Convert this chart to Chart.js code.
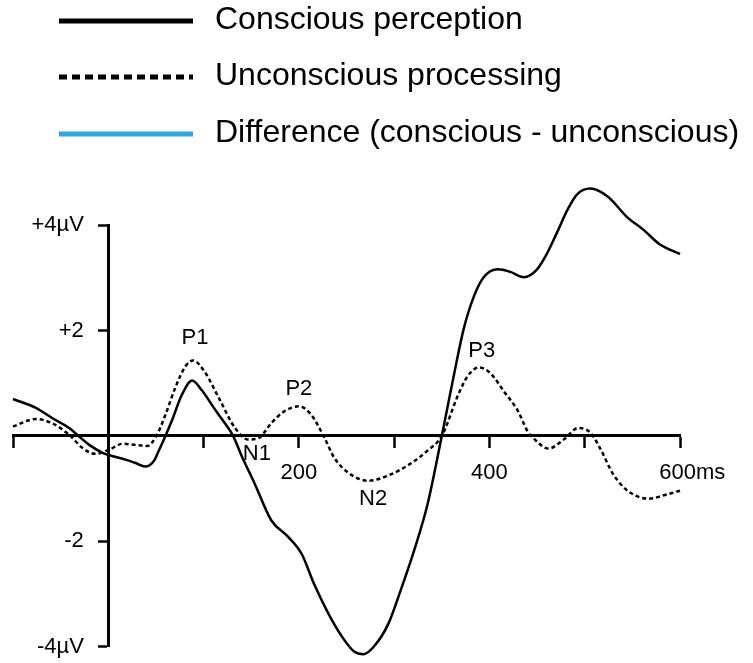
<!DOCTYPE html>
<html>
<head>
<meta charset="utf-8">
<script src="https://cdn.jsdelivr.net/npm/chart.js@4"></script>
<style>
  html, body { margin: 0; padding: 0; background: #fff; }
  #wrap { width: 753px; height: 663px; position: relative; }
</style>
</head>
<body>
<div id="wrap"><canvas id="erp"></canvas></div>
<script>
// time in ms, amplitude in microvolts
const consciousMs = [-100, -76, -59, -41, -30, -20, -6, 4, 18, 28, 39, 48, 53, 60, 67, 77, 88, 98, 112, 122, 131, 140, 154, 171, 189, 203, 216, 231, 245, 258, 268, 279, 294, 307, 321, 335, 350, 363, 373, 384, 394, 409, 422, 436, 450, 461, 471, 482, 492, 506, 524, 545, 561, 579, 600];
const consciousUv = [0.70, 0.53, 0.34, 0.15, -0.02, -0.17, -0.32, -0.38, -0.45, -0.51, -0.58, -0.47, -0.28, 0, 0.30, 0.77, 1.05, 0.87, 0.50, 0.25, 0, -0.38, -0.92, -1.60, -1.92, -2.24, -2.81, -3.37, -3.80, -4.09, -4.14, -3.99, -3.56, -2.92, -2.17, -1.30, 0, 1.18, 2.03, 2.66, 3.01, 3.16, 3.11, 3.01, 3.16, 3.48, 3.86, 4.29, 4.58, 4.69, 4.54, 4.14, 3.92, 3.63, 3.45];

const unconsciousMs = [-100, -76, -59, -41, -27, -14, 1, 15, 28, 41, 51, 60, 70, 81, 89, 101, 116, 133, 147, 158, 171, 185, 200, 213, 227, 237, 252, 273, 294, 315, 335, 350, 367, 377, 389, 401, 415, 430, 440, 446, 462, 478, 493, 506, 516, 530, 545, 567, 586, 600];
const unconsciousUv = [0.18, 0.32, 0.24, 0.02, -0.23, -0.34, -0.26, -0.15, -0.17, -0.19, 0.02, 0.40, 0.90, 1.32, 1.43, 1.22, 0.72, 0.15, -0.07, -0.04, 0.24, 0.47, 0.56, 0.40, -0.04, -0.41, -0.70, -0.85, -0.75, -0.55, -0.28, 0, 0.77, 1.13, 1.30, 1.19, 0.85, 0.47, 0.09, -0.04, -0.24, -0.07, 0.15, 0.06, -0.23, -0.73, -1.04, -1.19, -1.11, -1.04];

const seriesLabels = ['Conscious perception', 'Unconscious processing', 'Difference (conscious - unconscious)'];

const xTickValues = [-100, 100, 200, 300, 400, 500, 600];
const xTickLabels = ['', '', '200', '', '400', '', '    600ms'];
const yTickValues = [-4, -2, 2, 4];
const yTickLabels = ['-4\u00b5V', '-2', '+2', '+4\u00b5V'];

const peakNames = ['P1', 'N1', 'P2', 'N2', 'P3'];
const peakMs = [91, 156, 200, 278, 392];
const peakUv = [1.85, -0.34, 0.9, -1.19, 1.62];

const FONT = '"Liberation Sans", Arial, Helvetica, sans-serif';

function toPoints(xs, ys) {
  return xs.map((x, i) => ({ x: x, y: ys[i] }));
}

// legend drawn as long line samples above the plot
const lineLegend = {
  id: 'lineLegend',
  afterDraw(chart) {
    const ctx = chart.ctx;
    const rowY = [21, 77, 134];
    ctx.save();
    chart.data.datasets.forEach((ds, i) => {
      const y = rowY[i];
      ctx.beginPath();
      ctx.strokeStyle = ds.borderColor;
      ctx.lineWidth = 5;
      ctx.setLineDash(ds.borderDash && ds.borderDash.length ? [8, 5] : []);
      ctx.moveTo(59, y);
      ctx.lineTo(193, y);
      ctx.stroke();
      ctx.setLineDash([]);
      ctx.fillStyle = '#000';
      ctx.font = '32px ' + FONT;
      ctx.textBaseline = 'middle';
      ctx.textAlign = 'left';
      ctx.fillText(ds.label, 215, y - 1);
    });
    ctx.restore();
  }
};

// component names next to the peaks
const peakNamesPlugin = {
  id: 'peakNames',
  afterDatasetsDraw(chart) {
    const ctx = chart.ctx;
    const xs = chart.scales.x, ys = chart.scales.y;
    ctx.save();
    ctx.fillStyle = '#000';
    ctx.font = '22px ' + FONT;
    ctx.textAlign = 'center';
    ctx.textBaseline = 'middle';
    peakNames.forEach((name, i) => {
      ctx.fillText(name, xs.getPixelForValue(peakMs[i]), ys.getPixelForValue(peakUv[i]));
    });
    ctx.restore();
  }
};

new Chart(document.getElementById('erp'), {
  type: 'line',
  data: {
    datasets: [{
      label: seriesLabels[0],
      data: toPoints(consciousMs, consciousUv),
      borderColor: '#000',
      borderWidth: 2.5,
      borderDash: [],
      pointRadius: 0,
      cubicInterpolationMode: 'monotone',
      clip: false
    }, {
      label: seriesLabels[1],
      data: toPoints(unconsciousMs, unconsciousUv),
      borderColor: '#000',
      borderWidth: 2.5,
      borderDash: [4, 3],
      pointRadius: 0,
      cubicInterpolationMode: 'monotone',
      clip: false
    }, {
      label: seriesLabels[2],
      data: [],
      borderColor: '#2ea8df',
      borderWidth: 2.5,
      pointRadius: 0
    }]
  },
  options: {
    responsive: true,
    maintainAspectRatio: false,
    animation: false,
    layout: { padding: { left: 11, right: 73, top: 225, bottom: 13 } },
    plugins: {
      legend: { display: false },
      tooltip: { enabled: false }
    },
    scales: {
      x: {
        type: 'linear',
        min: -100,
        max: 600,
        position: { y: 0 },
        border: { color: '#000', width: 3 },
        grid: { drawOnChartArea: false, drawTicks: true, tickLength: 11, tickWidth: 2.5, tickColor: '#000' },
        afterBuildTicks: (axis) => { axis.ticks = xTickValues.map(v => ({ value: v })); },
        ticks: {
          autoSkip: false,
          maxRotation: 0,
          padding: 13,
          color: '#000',
          font: { size: 22, family: FONT },
          callback: (v) => xTickLabels[xTickValues.indexOf(v)]
        }
      },
      y: {
        type: 'linear',
        min: -4,
        max: 4,
        position: { x: 0 },
        border: { color: '#000', width: 3 },
        grid: { drawOnChartArea: false, drawTicks: true, tickLength: 9, tickWidth: 2.5, tickColor: '#000' },
        afterBuildTicks: (axis) => { axis.ticks = yTickValues.map(v => ({ value: v })); },
        ticks: {
          color: '#000',
          font: { size: 22, family: FONT },
          callback: (v) => yTickLabels[yTickValues.indexOf(v)] + '    '
        }
      }
    }
  },
  plugins: [lineLegend, peakNamesPlugin]
});
</script>
</body>
</html>
